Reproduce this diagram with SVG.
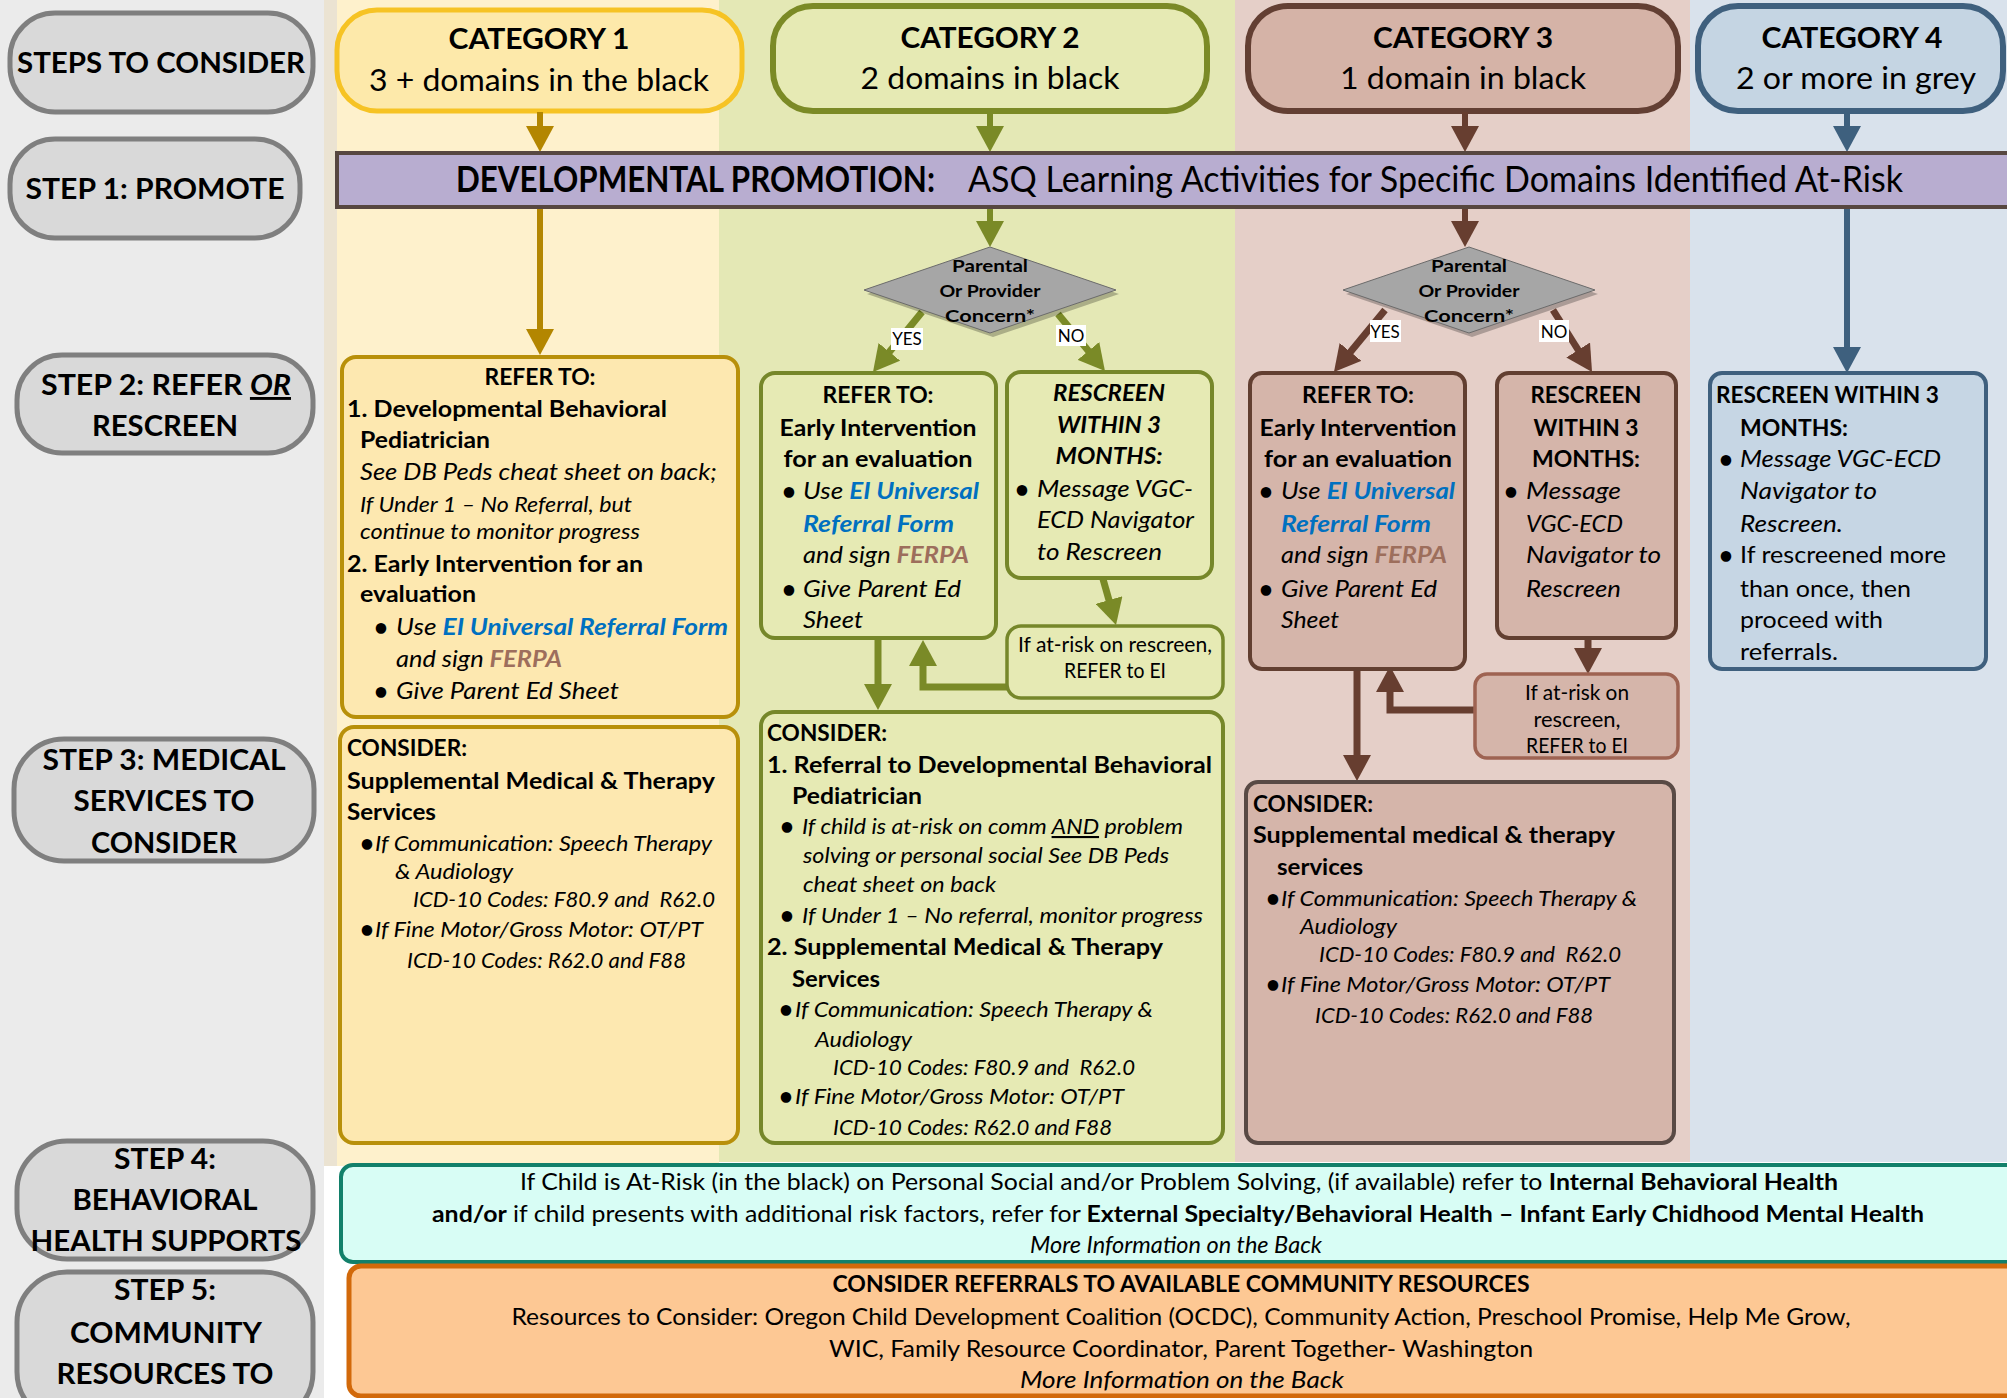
<svg xmlns="http://www.w3.org/2000/svg" width="2007" height="1398" viewBox="0 0 2007 1398">
<defs>
<style>
text{font-family:Lato,"Open Sans","Liberation Sans",sans-serif;fill:#000;font-size:23px}
.b{font-weight:700}
.i{font-style:italic}
.c{text-anchor:middle}
.s{font-size:21px}
.bu{font-size:24px;font-weight:700}
.st{font-weight:700;font-size:29px;text-anchor:middle}
.cat{font-weight:700;font-size:29px;text-anchor:middle}
.sub{font-size:30px;text-anchor:middle}
.bar{font-size:36px}
.dia{font-weight:700;font-size:17px;text-anchor:middle}
.yn{font-size:17px;text-anchor:middle}
.blue{fill:#0070c0;font-weight:700}
.ferpa{fill:#9d6e5c;font-weight:700}
.pill{fill:#d9d9d9;stroke:#7f7f7f;stroke-width:5}
.yb{fill:#fde8b0;stroke:#b8900a;stroke-width:4}
.gb{fill:#e6eab4;stroke:#76872a;stroke-width:4}
.pb{fill:#d5b5aa;stroke:#623f31;stroke-width:4}
.lab{fill:#fff}
.ay{fill:none;stroke:#b38600;stroke-width:6}
.ag{fill:none;stroke:#7a8a27;stroke-width:7}
.ap{fill:none;stroke:#673e30;stroke-width:7}
.an{fill:none;stroke:#3e607e;stroke-width:6}
</style>
<marker id="mY" markerUnits="userSpaceOnUse" markerWidth="26" markerHeight="28" viewBox="0 0 26 28" refX="16" refY="14" orient="auto"><path d="M0,0L26,14L0,28z" fill="#b38600"/></marker>
<marker id="mG" markerUnits="userSpaceOnUse" markerWidth="26" markerHeight="28" viewBox="0 0 26 28" refX="16" refY="14" orient="auto"><path d="M0,0L26,14L0,28z" fill="#7a8a27"/></marker>
<marker id="mP" markerUnits="userSpaceOnUse" markerWidth="26" markerHeight="28" viewBox="0 0 26 28" refX="16" refY="14" orient="auto"><path d="M0,0L26,14L0,28z" fill="#673e30"/></marker>
<marker id="mN" markerUnits="userSpaceOnUse" markerWidth="26" markerHeight="28" viewBox="0 0 26 28" refX="16" refY="14" orient="auto"><path d="M0,0L26,14L0,28z" fill="#3e607e"/></marker>
</defs>

<g id="background">
<rect x="0" y="0" width="2007" height="1398" fill="#ffffff"/>
<rect x="0" y="0" width="324" height="1398" fill="#ebebeb"/>
<rect x="324" y="0" width="13" height="1166" fill="#ebe3d2"/>
<rect x="337" y="0" width="382" height="1166" fill="#fef1cc"/>
<rect x="719" y="0" width="516" height="1162" fill="#e4e8b5"/>
<rect x="1235" y="0" width="455" height="1162" fill="#e5cfc8"/>
<rect x="1690" y="0" width="317" height="1162" fill="#d9e2ec"/>
</g>

<g id="steps">
<g id="step-consider"><rect class="pill" x="10" y="13" width="303" height="99" rx="45"/><text class="st" x="161" y="73" textLength="288" lengthAdjust="spacingAndGlyphs">STEPS TO CONSIDER</text></g>
<g id="step1"><rect class="pill" x="10" y="139" width="290" height="99" rx="45"/><text class="st" x="155" y="199" textLength="259" lengthAdjust="spacingAndGlyphs">STEP 1: PROMOTE</text></g>
<g id="step2"><rect class="pill" x="17" y="355" width="296" height="98" rx="45"/><text class="st" x="166" y="395" textLength="250" lengthAdjust="spacingAndGlyphs">STEP 2: REFER <tspan font-style="italic" text-decoration="underline">OR</tspan></text><text class="st" x="165" y="436" textLength="146" lengthAdjust="spacingAndGlyphs">RESCREEN</text></g>
<g id="step3"><rect class="pill" x="14" y="739" width="300" height="122" rx="50"/><text class="st" x="164" y="770" textLength="243" lengthAdjust="spacingAndGlyphs">STEP 3: MEDICAL</text><text class="st" x="164" y="811" textLength="181" lengthAdjust="spacingAndGlyphs">SERVICES TO</text><text class="st" x="164" y="853" textLength="146" lengthAdjust="spacingAndGlyphs">CONSIDER</text></g>
<g id="step4"><rect class="pill" x="17" y="1141" width="296" height="118" rx="50"/><text class="st" x="165" y="1169" textLength="102" lengthAdjust="spacingAndGlyphs">STEP 4:</text><text class="st" x="165" y="1210" textLength="185" lengthAdjust="spacingAndGlyphs">BEHAVIORAL</text><text class="st" x="166" y="1251" textLength="271" lengthAdjust="spacingAndGlyphs">HEALTH SUPPORTS</text></g>
<g id="step5"><rect class="pill" x="17" y="1272" width="296" height="150" rx="50"/><text class="st" x="165" y="1300" textLength="102" lengthAdjust="spacingAndGlyphs">STEP 5:</text><text class="st" x="166" y="1343" textLength="192" lengthAdjust="spacingAndGlyphs">COMMUNITY</text><text class="st" x="165" y="1384" textLength="217" lengthAdjust="spacingAndGlyphs">RESOURCES TO</text></g>
</g>

<g id="categories">
<g id="cat1"><rect x="337" y="10" width="405" height="101" rx="40" fill="#fde9aa" stroke="#f6c324" stroke-width="5"/><text class="cat" x="539" y="49" textLength="181" lengthAdjust="spacingAndGlyphs">CATEGORY 1</text><text class="sub" x="539" y="91" textLength="340" lengthAdjust="spacingAndGlyphs">3 + domains in the black</text></g>
<g id="cat2"><rect x="773" y="6" width="434" height="105" rx="40" fill="#e6eab4" stroke="#7b8a26" stroke-width="6"/><text class="cat" x="990" y="48" textLength="179" lengthAdjust="spacingAndGlyphs">CATEGORY 2</text><text class="sub" x="990" y="89" textLength="259" lengthAdjust="spacingAndGlyphs">2 domains in black</text></g>
<g id="cat3"><rect x="1248" y="6" width="430" height="105" rx="40" fill="#d5b3a7" stroke="#633f33" stroke-width="6"/><text class="cat" x="1463" y="48" textLength="180" lengthAdjust="spacingAndGlyphs">CATEGORY 3</text><text class="sub" x="1463" y="89" textLength="246" lengthAdjust="spacingAndGlyphs">1 domain in black</text></g>
<g id="cat4"><rect x="1698" y="6" width="305" height="105" rx="40" fill="#c5d5e3" stroke="#3f607e" stroke-width="6"/><text class="cat" x="1852" y="48" textLength="181" lengthAdjust="spacingAndGlyphs">CATEGORY 4</text><text class="sub" x="1856" y="89" textLength="240" lengthAdjust="spacingAndGlyphs">2 or more in grey</text></g>
</g>

<g id="connectors">
<path class="ay" d="M540,112V142" marker-end="url(#mY)"/>
<path class="ay" d="M540,208V345" marker-end="url(#mY)"/>
<path class="ag" style="stroke-width:6" d="M990,112V142" marker-end="url(#mG)"/>
<path class="ag" style="stroke-width:6" d="M990,208V237" marker-end="url(#mG)"/>
<path class="ap" style="stroke-width:6" d="M1465,112V142" marker-end="url(#mP)"/>
<path class="ap" style="stroke-width:6" d="M1465,208V237" marker-end="url(#mP)"/>
<path class="an" d="M1847,112V142" marker-end="url(#mN)"/>
<path class="an" d="M1847,208V363" marker-end="url(#mN)"/>
<path class="ag" d="M922,312L879.3,364.3" marker-end="url(#mG)"/>
<path class="ag" d="M1058,314L1098.6,363.3" marker-end="url(#mG)"/>
<path class="ap" d="M1385,310L1340.3,364.3" marker-end="url(#mP)"/>
<path class="ap" d="M1553,310L1586.7,363.5" marker-end="url(#mP)"/>
<path class="ag" d="M1103,579L1113.3,615.4" marker-end="url(#mG)"/>
<path class="ag" d="M878,638V700" marker-end="url(#mG)"/>
<path class="ag" d="M1007,687H923V650" marker-end="url(#mG)"/>
<path class="ap" d="M1588,638V664" marker-end="url(#mP)"/>
<path class="ap" d="M1357,669V771" marker-end="url(#mP)"/>
<path class="ap" d="M1475,710H1390V676" marker-end="url(#mP)"/>
</g>

<g id="promote-bar">
<rect x="337" y="153" width="1680" height="54" fill="#b8add0" stroke="#574740" stroke-width="4"/>
<text class="b bar" x="456" y="192" textLength="479" lengthAdjust="spacingAndGlyphs">DEVELOPMENTAL PROMOTION:</text>
<text class="bar" x="968" y="192" textLength="935" lengthAdjust="spacingAndGlyphs">ASQ Learning Activities for Specific Domains Identified At-Risk</text>
</g>

<g id="decision2">
<polygon points="993,251 1119,294 993,337 867,294" fill="#000" opacity="0.25"/>
<polygon points="990,247 1116,290 990,333 864,290" fill="#a6a6a6" stroke="#6b6b6b" stroke-width="1"/>
<text class="dia" x="990" y="272" textLength="76" lengthAdjust="spacingAndGlyphs">Parental</text>
<text class="dia" x="990" y="297" textLength="101" lengthAdjust="spacingAndGlyphs">Or Provider</text>
<text class="dia" x="990" y="322" textLength="90" lengthAdjust="spacingAndGlyphs">Concern*</text>
</g>
<g id="decision3">
<polygon points="1472,251 1598,294 1472,337 1346,294" fill="#000" opacity="0.25"/>
<polygon points="1469,247 1595,290 1469,333 1343,290" fill="#a6a6a6" stroke="#6b6b6b" stroke-width="1"/>
<text class="dia" x="1469" y="272" textLength="76" lengthAdjust="spacingAndGlyphs">Parental</text>
<text class="dia" x="1469" y="297" textLength="101" lengthAdjust="spacingAndGlyphs">Or Provider</text>
<text class="dia" x="1469" y="322" textLength="90" lengthAdjust="spacingAndGlyphs">Concern*</text>
</g>
<g id="labels">
<rect class="lab" x="891" y="328" width="32" height="22"/><text class="yn" x="907" y="345">YES</text>
<rect class="lab" x="1056" y="325" width="30" height="21"/><text class="yn" x="1071" y="342">NO</text>
<rect class="lab" x="1370" y="320" width="31" height="22"/><text class="yn" x="1385" y="338">YES</text>
<rect class="lab" x="1539" y="320" width="30" height="22"/><text class="yn" x="1554" y="338">NO</text>
</g>

<g id="cat1-refer">
<rect class="yb" x="342" y="357" width="396" height="360" rx="14"/>
<text class="b c" x="540" y="385" textLength="111" lengthAdjust="spacingAndGlyphs">REFER TO:</text>
<text class="b" x="347" y="417" textLength="320" lengthAdjust="spacingAndGlyphs">1. Developmental Behavioral</text>
<text class="b" x="360" y="448" textLength="130" lengthAdjust="spacingAndGlyphs">Pediatrician</text>
<text class="i" x="360" y="480" style="font-size:24px" textLength="357" lengthAdjust="spacingAndGlyphs">See DB Peds cheat sheet on back;</text>
<text class="i s" x="360" y="512" textLength="272" lengthAdjust="spacingAndGlyphs">If Under 1 – No Referral, but</text>
<text class="i s" x="360" y="539" textLength="280" lengthAdjust="spacingAndGlyphs">continue to monitor progress</text>
<text class="b" x="347" y="572" textLength="296" lengthAdjust="spacingAndGlyphs">2. Early Intervention for an</text>
<text class="b" x="360" y="602" textLength="116" lengthAdjust="spacingAndGlyphs">evaluation</text>
<text class="bu" x="374" y="636">•</text>
<text class="i" x="396" y="635" textLength="332" lengthAdjust="spacingAndGlyphs">Use <tspan class="blue">EI Universal Referral Form</tspan></text>
<text class="i" x="396" y="667" textLength="166" lengthAdjust="spacingAndGlyphs">and sign <tspan class="ferpa">FERPA</tspan></text>
<text class="bu" x="374" y="700">•</text>
<text class="i" x="396" y="699" textLength="223" lengthAdjust="spacingAndGlyphs">Give Parent Ed Sheet</text>
</g>

<g id="cat1-consider">
<rect class="yb" x="340" y="727" width="398" height="416" rx="14"/>
<text class="b" x="347" y="756" textLength="120" lengthAdjust="spacingAndGlyphs">CONSIDER:</text>
<text class="b" x="347" y="789" textLength="368" lengthAdjust="spacingAndGlyphs">Supplemental Medical &amp; Therapy</text>
<text class="b" x="347" y="820" textLength="89" lengthAdjust="spacingAndGlyphs">Services</text>
<text class="bu" x="360" y="852">•</text>
<text class="i s" x="375" y="851" textLength="337" lengthAdjust="spacingAndGlyphs">If Communication: Speech Therapy</text>
<text class="i s" x="395" y="879" textLength="118" lengthAdjust="spacingAndGlyphs">&amp; Audiology</text>
<text class="i s" x="413" y="907" textLength="302" lengthAdjust="spacingAndGlyphs">ICD-10 Codes: F80.9 and&#160; R62.0</text>
<text class="bu" x="360" y="938">•</text>
<text class="i s" x="375" y="937" textLength="328" lengthAdjust="spacingAndGlyphs">If Fine Motor/Gross Motor: OT/PT</text>
<text class="i s" x="407" y="968" textLength="279" lengthAdjust="spacingAndGlyphs">ICD-10 Codes: R62.0 and F88</text>
</g>

<g id="cat2-refer">
<rect class="gb" x="761" y="373" width="235" height="265" rx="14"/>
<text class="b c" x="878" y="403" textLength="111" lengthAdjust="spacingAndGlyphs">REFER TO:</text>
<text class="b c" x="878" y="436" textLength="197" lengthAdjust="spacingAndGlyphs">Early Intervention</text>
<text class="b c" x="878" y="467" textLength="189" lengthAdjust="spacingAndGlyphs">for an evaluation</text>
<text class="bu" x="782" y="500">•</text>
<text class="i" x="803" y="499" textLength="176" lengthAdjust="spacingAndGlyphs">Use <tspan class="blue">EI Universal</tspan></text>
<text class="i blue" x="803" y="532" textLength="151" lengthAdjust="spacingAndGlyphs">Referral Form</text>
<text class="i" x="803" y="563" textLength="166" lengthAdjust="spacingAndGlyphs">and sign <tspan class="ferpa">FERPA</tspan></text>
<text class="bu" x="782" y="598">•</text>
<text class="i" x="803" y="597" textLength="158" lengthAdjust="spacingAndGlyphs">Give Parent Ed</text>
<text class="i" x="803" y="628" textLength="60" lengthAdjust="spacingAndGlyphs">Sheet</text>
</g>

<g id="cat2-rescreen">
<rect class="gb" x="1007" y="372" width="205" height="206" rx="14"/>
<text class="b i c" x="1109" y="401" textLength="112" lengthAdjust="spacingAndGlyphs">RESCREEN</text>
<text class="b i c" x="1109" y="433" textLength="104" lengthAdjust="spacingAndGlyphs">WITHIN 3</text>
<text class="b i c" x="1109" y="464" textLength="107" lengthAdjust="spacingAndGlyphs">MONTHS:</text>
<text class="bu" x="1015" y="498">•</text>
<text class="i" x="1037" y="497" textLength="156" lengthAdjust="spacingAndGlyphs">Message VGC-</text>
<text class="i" x="1037" y="528" textLength="157" lengthAdjust="spacingAndGlyphs">ECD Navigator</text>
<text class="i" x="1037" y="560" textLength="125" lengthAdjust="spacingAndGlyphs">to Rescreen</text>
</g>

<g id="cat2-atrisk">
<rect class="gb" style="stroke-width:3.5" x="1007" y="626" width="216" height="72" rx="14"/>
<text class="c s" x="1115" y="652" textLength="194" lengthAdjust="spacingAndGlyphs">If at-risk on rescreen,</text>
<text class="c s" x="1115" y="678" textLength="102" lengthAdjust="spacingAndGlyphs">REFER to EI</text>
</g>

<g id="cat2-consider">
<rect class="gb" x="761" y="712" width="462" height="431" rx="14"/>
<text class="b" x="767" y="741" textLength="120" lengthAdjust="spacingAndGlyphs">CONSIDER:</text>
<text class="b" x="767" y="773" textLength="445" lengthAdjust="spacingAndGlyphs">1. Referral to Developmental Behavioral</text>
<text class="b" x="792" y="804" textLength="130" lengthAdjust="spacingAndGlyphs">Pediatrician</text>
<text class="bu" x="780" y="835">•</text>
<text class="i s" x="802" y="834" textLength="381" lengthAdjust="spacingAndGlyphs">If child is at-risk on comm <tspan text-decoration="underline">AND</tspan> problem</text>
<text class="i s" x="803" y="863" textLength="366" lengthAdjust="spacingAndGlyphs">solving or personal social See DB Peds</text>
<text class="i s" x="803" y="892" textLength="193" lengthAdjust="spacingAndGlyphs">cheat sheet on back</text>
<text class="bu" x="780" y="924">•</text>
<text class="i s" x="802" y="923" textLength="401" lengthAdjust="spacingAndGlyphs">If Under 1 – No referral, monitor progress</text>
<text class="b" x="767" y="955" textLength="396" lengthAdjust="spacingAndGlyphs">2. Supplemental Medical &amp; Therapy</text>
<text class="b" x="792" y="987" textLength="88" lengthAdjust="spacingAndGlyphs">Services</text>
<text class="bu" x="779" y="1018">•</text>
<text class="i s" x="795" y="1017" textLength="358" lengthAdjust="spacingAndGlyphs">If Communication: Speech Therapy &amp;</text>
<text class="i s" x="815" y="1047" textLength="97" lengthAdjust="spacingAndGlyphs">Audiology</text>
<text class="i s" x="833" y="1075" textLength="302" lengthAdjust="spacingAndGlyphs">ICD-10 Codes: F80.9 and&#160; R62.0</text>
<text class="bu" x="779" y="1105">•</text>
<text class="i s" x="795" y="1104" textLength="329" lengthAdjust="spacingAndGlyphs">If Fine Motor/Gross Motor: OT/PT</text>
<text class="i s" x="833" y="1135" textLength="279" lengthAdjust="spacingAndGlyphs">ICD-10 Codes: R62.0 and F88</text>
</g>

<g id="cat3-refer">
<rect class="pb" x="1250" y="373" width="215" height="296" rx="12"/>
<text class="b c" x="1358" y="403" textLength="112" lengthAdjust="spacingAndGlyphs">REFER TO:</text>
<text class="b c" x="1358" y="436" textLength="197" lengthAdjust="spacingAndGlyphs">Early Intervention</text>
<text class="b c" x="1358" y="467" textLength="188" lengthAdjust="spacingAndGlyphs">for an evaluation</text>
<text class="bu" x="1259" y="500">•</text>
<text class="i" x="1281" y="499" textLength="174" lengthAdjust="spacingAndGlyphs">Use <tspan class="blue">EI Universal</tspan></text>
<text class="i blue" x="1281" y="532" textLength="150" lengthAdjust="spacingAndGlyphs">Referral Form</text>
<text class="i" x="1281" y="563" textLength="166" lengthAdjust="spacingAndGlyphs">and sign <tspan class="ferpa">FERPA</tspan></text>
<text class="bu" x="1259" y="598">•</text>
<text class="i" x="1281" y="597" textLength="156" lengthAdjust="spacingAndGlyphs">Give Parent Ed</text>
<text class="i" x="1281" y="628" textLength="58" lengthAdjust="spacingAndGlyphs">Sheet</text>
</g>

<g id="cat3-rescreen">
<rect class="pb" x="1497" y="373" width="179" height="265" rx="12"/>
<text class="b c" x="1586" y="403" textLength="111" lengthAdjust="spacingAndGlyphs">RESCREEN</text>
<text class="b c" x="1586" y="436" textLength="105" lengthAdjust="spacingAndGlyphs">WITHIN 3</text>
<text class="b c" x="1586" y="467" textLength="108" lengthAdjust="spacingAndGlyphs">MONTHS:</text>
<text class="bu" x="1504" y="500">•</text>
<text class="i" x="1526" y="499" textLength="95" lengthAdjust="spacingAndGlyphs">Message</text>
<text class="i" x="1526" y="532" textLength="97" lengthAdjust="spacingAndGlyphs">VGC-ECD</text>
<text class="i" x="1526" y="563" textLength="135" lengthAdjust="spacingAndGlyphs">Navigator to</text>
<text class="i" x="1526" y="597" textLength="95" lengthAdjust="spacingAndGlyphs">Rescreen</text>
</g>

<g id="cat3-atrisk">
<rect x="1475" y="674" width="203" height="84" rx="12" fill="#d5b5aa" stroke="#9e6352" stroke-width="3.5"/>
<text class="c s" x="1577" y="700" textLength="104" lengthAdjust="spacingAndGlyphs">If at-risk on</text>
<text class="c s" x="1577" y="727" textLength="87" lengthAdjust="spacingAndGlyphs">rescreen,</text>
<text class="c s" x="1577" y="753" textLength="102" lengthAdjust="spacingAndGlyphs">REFER to EI</text>
</g>

<g id="cat3-consider">
<rect class="pb" style="stroke:#594a45" x="1246" y="782" width="428" height="361" rx="12"/>
<text class="b" x="1253" y="812" textLength="120" lengthAdjust="spacingAndGlyphs">CONSIDER:</text>
<text class="b" x="1253" y="843" textLength="362" lengthAdjust="spacingAndGlyphs">Supplemental medical &amp; therapy</text>
<text class="b" x="1277" y="875" textLength="86" lengthAdjust="spacingAndGlyphs">services</text>
<text class="bu" x="1266" y="907">•</text>
<text class="i s" x="1281" y="906" textLength="356" lengthAdjust="spacingAndGlyphs">If Communication: Speech Therapy &amp;</text>
<text class="i s" x="1300" y="934" textLength="97" lengthAdjust="spacingAndGlyphs">Audiology</text>
<text class="i s" x="1319" y="962" textLength="302" lengthAdjust="spacingAndGlyphs">ICD-10 Codes: F80.9 and&#160; R62.0</text>
<text class="bu" x="1266" y="993">•</text>
<text class="i s" x="1281" y="992" textLength="329" lengthAdjust="spacingAndGlyphs">If Fine Motor/Gross Motor: OT/PT</text>
<text class="i s" x="1315" y="1023" textLength="278" lengthAdjust="spacingAndGlyphs">ICD-10 Codes: R62.0 and F88</text>
</g>

<g id="cat4-rescreen">
<rect x="1710" y="373" width="276" height="296" rx="12" fill="#c6d6e4" stroke="#3f607e" stroke-width="4"/>
<text class="b" x="1716" y="403" textLength="223" lengthAdjust="spacingAndGlyphs">RESCREEN WITHIN 3</text>
<text class="b" x="1740" y="436" textLength="108" lengthAdjust="spacingAndGlyphs">MONTHS:</text>
<text class="bu" x="1719" y="468">•</text>
<text class="i" x="1740" y="467" textLength="201" lengthAdjust="spacingAndGlyphs">Message VGC-ECD</text>
<text class="i" x="1740" y="499" textLength="137" lengthAdjust="spacingAndGlyphs">Navigator to</text>
<text class="i" x="1740" y="532" textLength="103" lengthAdjust="spacingAndGlyphs">Rescreen.</text>
<text class="bu" x="1719" y="564">•</text>
<text x="1740" y="563" textLength="206" lengthAdjust="spacingAndGlyphs">If rescreened more</text>
<text x="1740" y="597" textLength="171" lengthAdjust="spacingAndGlyphs">than once, then</text>
<text x="1740" y="628" textLength="143" lengthAdjust="spacingAndGlyphs">proceed with</text>
<text x="1740" y="660" textLength="98" lengthAdjust="spacingAndGlyphs">referrals.</text>
</g>

<g id="behavioral">
<rect x="341" y="1165" width="1680" height="97" rx="12" fill="#d8fdf5" stroke="#12806a" stroke-width="4"/>
<text class="c" x="1179" y="1190" textLength="1318" lengthAdjust="spacingAndGlyphs">If Child is At-Risk (in the black) on Personal Social and/or Problem Solving, (if available) refer to <tspan class="b">Internal Behavioral Health</tspan></text>
<text class="c" x="1178" y="1222" textLength="1492" lengthAdjust="spacingAndGlyphs"><tspan class="b">and/or</tspan> if child presents with additional risk factors, refer for <tspan class="b">External Specialty/Behavioral Health – Infant Early Chidhood Mental Health</tspan></text>
<text class="c i" x="1176" y="1253" textLength="292" lengthAdjust="spacingAndGlyphs">More Information on the Back</text>
</g>

<g id="community">
<rect x="349" y="1266" width="1670" height="130" rx="12" fill="#fdc894" stroke="#d2690a" stroke-width="5"/>
<text class="c b" x="1181" y="1292" textLength="697" lengthAdjust="spacingAndGlyphs">CONSIDER REFERRALS TO AVAILABLE COMMUNITY RESOURCES</text>
<text class="c" x="1181" y="1325" textLength="1339" lengthAdjust="spacingAndGlyphs">Resources to Consider: Oregon Child Development Coalition (OCDC), Community Action, Preschool Promise, Help Me Grow,</text>
<text class="c" x="1181" y="1357" textLength="704" lengthAdjust="spacingAndGlyphs">WIC, Family Resource Coordinator, Parent Together- Washington</text>
<text class="c i" x="1182" y="1388" style="font-size:24px" textLength="324" lengthAdjust="spacingAndGlyphs">More Information on the Back</text>
</g>
</svg>
